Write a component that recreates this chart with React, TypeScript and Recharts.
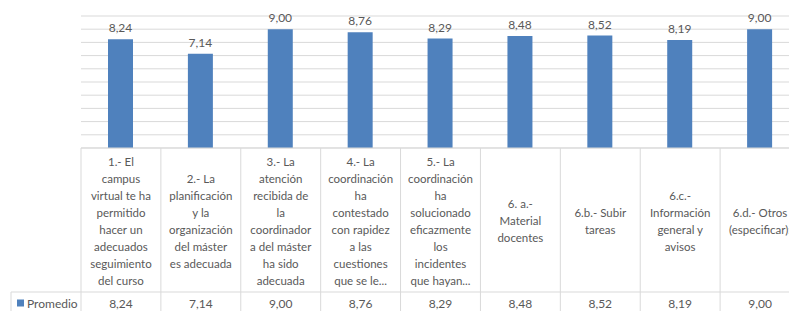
import React from 'react';
import { BarChart, Bar, XAxis, YAxis, CartesianGrid, LabelList } from 'recharts';

// ---------- data ----------
const categories = [
  '1.- El campus virtual te ha permitido hacer un adecuados seguimiento del curso',
  '2.- La planificación y la organización del máster es adecuada',
  '3.- La atención recibida de la coordinadora del máster ha sido adecuada',
  '4.- La coordinación ha contestado con rapidez a las cuestiones que se le...',
  '5.- La coordinación ha solucionado eficazmente los incidentes que hayan...',
  '6. a.- Material docentes',
  '6.b.- Subir tareas',
  '6.c.- Información general y avisos',
  '6.d.- Otros (especificar):',
];

const categoryLines: string[][] = [
  ['1.- El', 'campus', 'virtual te ha', 'permitido', 'hacer un', 'adecuados', 'seguimiento', 'del curso'],
  ['2.- La', 'planificación', 'y la', 'organización', 'del máster', 'es adecuada'],
  ['3.- La', 'atención', 'recibida de', 'la', 'coordinador', 'a del máster', 'ha sido', 'adecuada'],
  ['4.- La', 'coordinación', 'ha', 'contestado', 'con rapidez', 'a las', 'cuestiones', 'que se le...'],
  ['5.- La', 'coordinación', 'ha', 'solucionado', 'eficazmente', 'los', 'incidentes', 'que hayan...'],
  ['6. a.-', 'Material', 'docentes'],
  ['6.b.- Subir', 'tareas'],
  ['6.c.-', 'Información', 'general y', 'avisos'],
  ['6.d.- Otros', '(especificar):'],
];

const promedio = [8.24, 7.14, 9.0, 8.76, 8.29, 8.48, 8.52, 8.19, 9.0];
const seriesName = 'Promedio';
const yTicks = [0, 1, 2, 3, 4, 5, 6, 7, 8, 9, 10];

const data = categories.map((name, i) => ({ name, value: promedio[i] }));

// ---------- style / layout ----------
const CHART_W = 800;
const CHART_H = 320;
const LEFT = 81;
const TOP = 16;
const AXIS_Y = 148;
const ROW_Y = 292;
const LEGEND_X = 11;
const COL_W = (CHART_W - LEFT) / categories.length;
const LINE_H = 17;
const FONT = 'Lato, "Open Sans", "Liberation Sans", sans-serif';
const TEXT = '#595959';
const GRID = '#d9d9d9';
const BAR = '#4f81bd';

const fmt = (v: any) => Number(v).toFixed(2).replace('.', ',');

function TableTick(props: any) {
  const { x } = props;
  const i: number = props.index ?? props.payload?.index ?? 0;
  const lines = categoryLines[i] || [];
  const centerY = (AXIS_Y + ROW_Y) / 2;
  const startY = centerY - ((lines.length - 1) * LINE_H) / 2;
  return (
    <g>
      <line x1={x + COL_W / 2} x2={x + COL_W / 2} y1={AXIS_Y} y2={CHART_H} stroke={GRID} strokeWidth={1} />
      {i === 0 && (
        <g>
          <line x1={x - COL_W / 2} x2={x - COL_W / 2} y1={AXIS_Y} y2={CHART_H} stroke={GRID} strokeWidth={1} />
          <line x1={LEGEND_X} x2={CHART_W} y1={ROW_Y} y2={ROW_Y} stroke={GRID} strokeWidth={1} />
          <line x1={LEGEND_X} x2={LEGEND_X} y1={ROW_Y} y2={CHART_H} stroke={GRID} strokeWidth={1} />
          <rect x={17} y={299.5} width={7} height={7} fill={BAR} />
          <text x={27} y={ROW_Y + 11} fill={TEXT} fontSize={12} fontFamily={FONT} dominantBaseline="central">
            {seriesName}
          </text>
        </g>
      )}
      <text fill={TEXT} fontSize={11.5} fontFamily={FONT} textAnchor="middle" dominantBaseline="central">
        {lines.map((l, k) => (
          <tspan key={k} x={x} y={startY + k * LINE_H}>
            {l}
          </tspan>
        ))}
      </text>
      <text x={x} y={ROW_Y + 11} fill={TEXT} fontSize={12} fontFamily={FONT} textAnchor="middle" dominantBaseline="central">
        {fmt(promedio[i])}
      </text>
    </g>
  );
}

export default function App() {
  return (
    <div style={{ position: 'absolute', left: 0, top: 0, width: 789, height: 311, overflow: 'hidden', background: '#fff' }}>
      <BarChart
        width={CHART_W}
        height={CHART_H}
        data={data}
        margin={{ top: TOP, right: 0, left: LEFT, bottom: 0 }}
      >
        <CartesianGrid vertical={false} stroke={GRID} strokeDasharray="" />
        <YAxis hide domain={[0, 10]} ticks={yTicks} interval={0} />
        <XAxis
          dataKey="name"
          interval={0}
          tickLine={false}
          axisLine={{ stroke: GRID }}
          height={CHART_H - AXIS_Y}
          tick={TableTick}
        />
        <Bar dataKey="value" name={seriesName} fill={BAR} barSize={25} isAnimationActive={false}>
          <LabelList
            dataKey="value"
            position="top"
            offset={7}
            formatter={fmt}
            fill={TEXT}
            fontSize={12}
            fontFamily={FONT}
          />
        </Bar>
      </BarChart>
    </div>
  );
}
